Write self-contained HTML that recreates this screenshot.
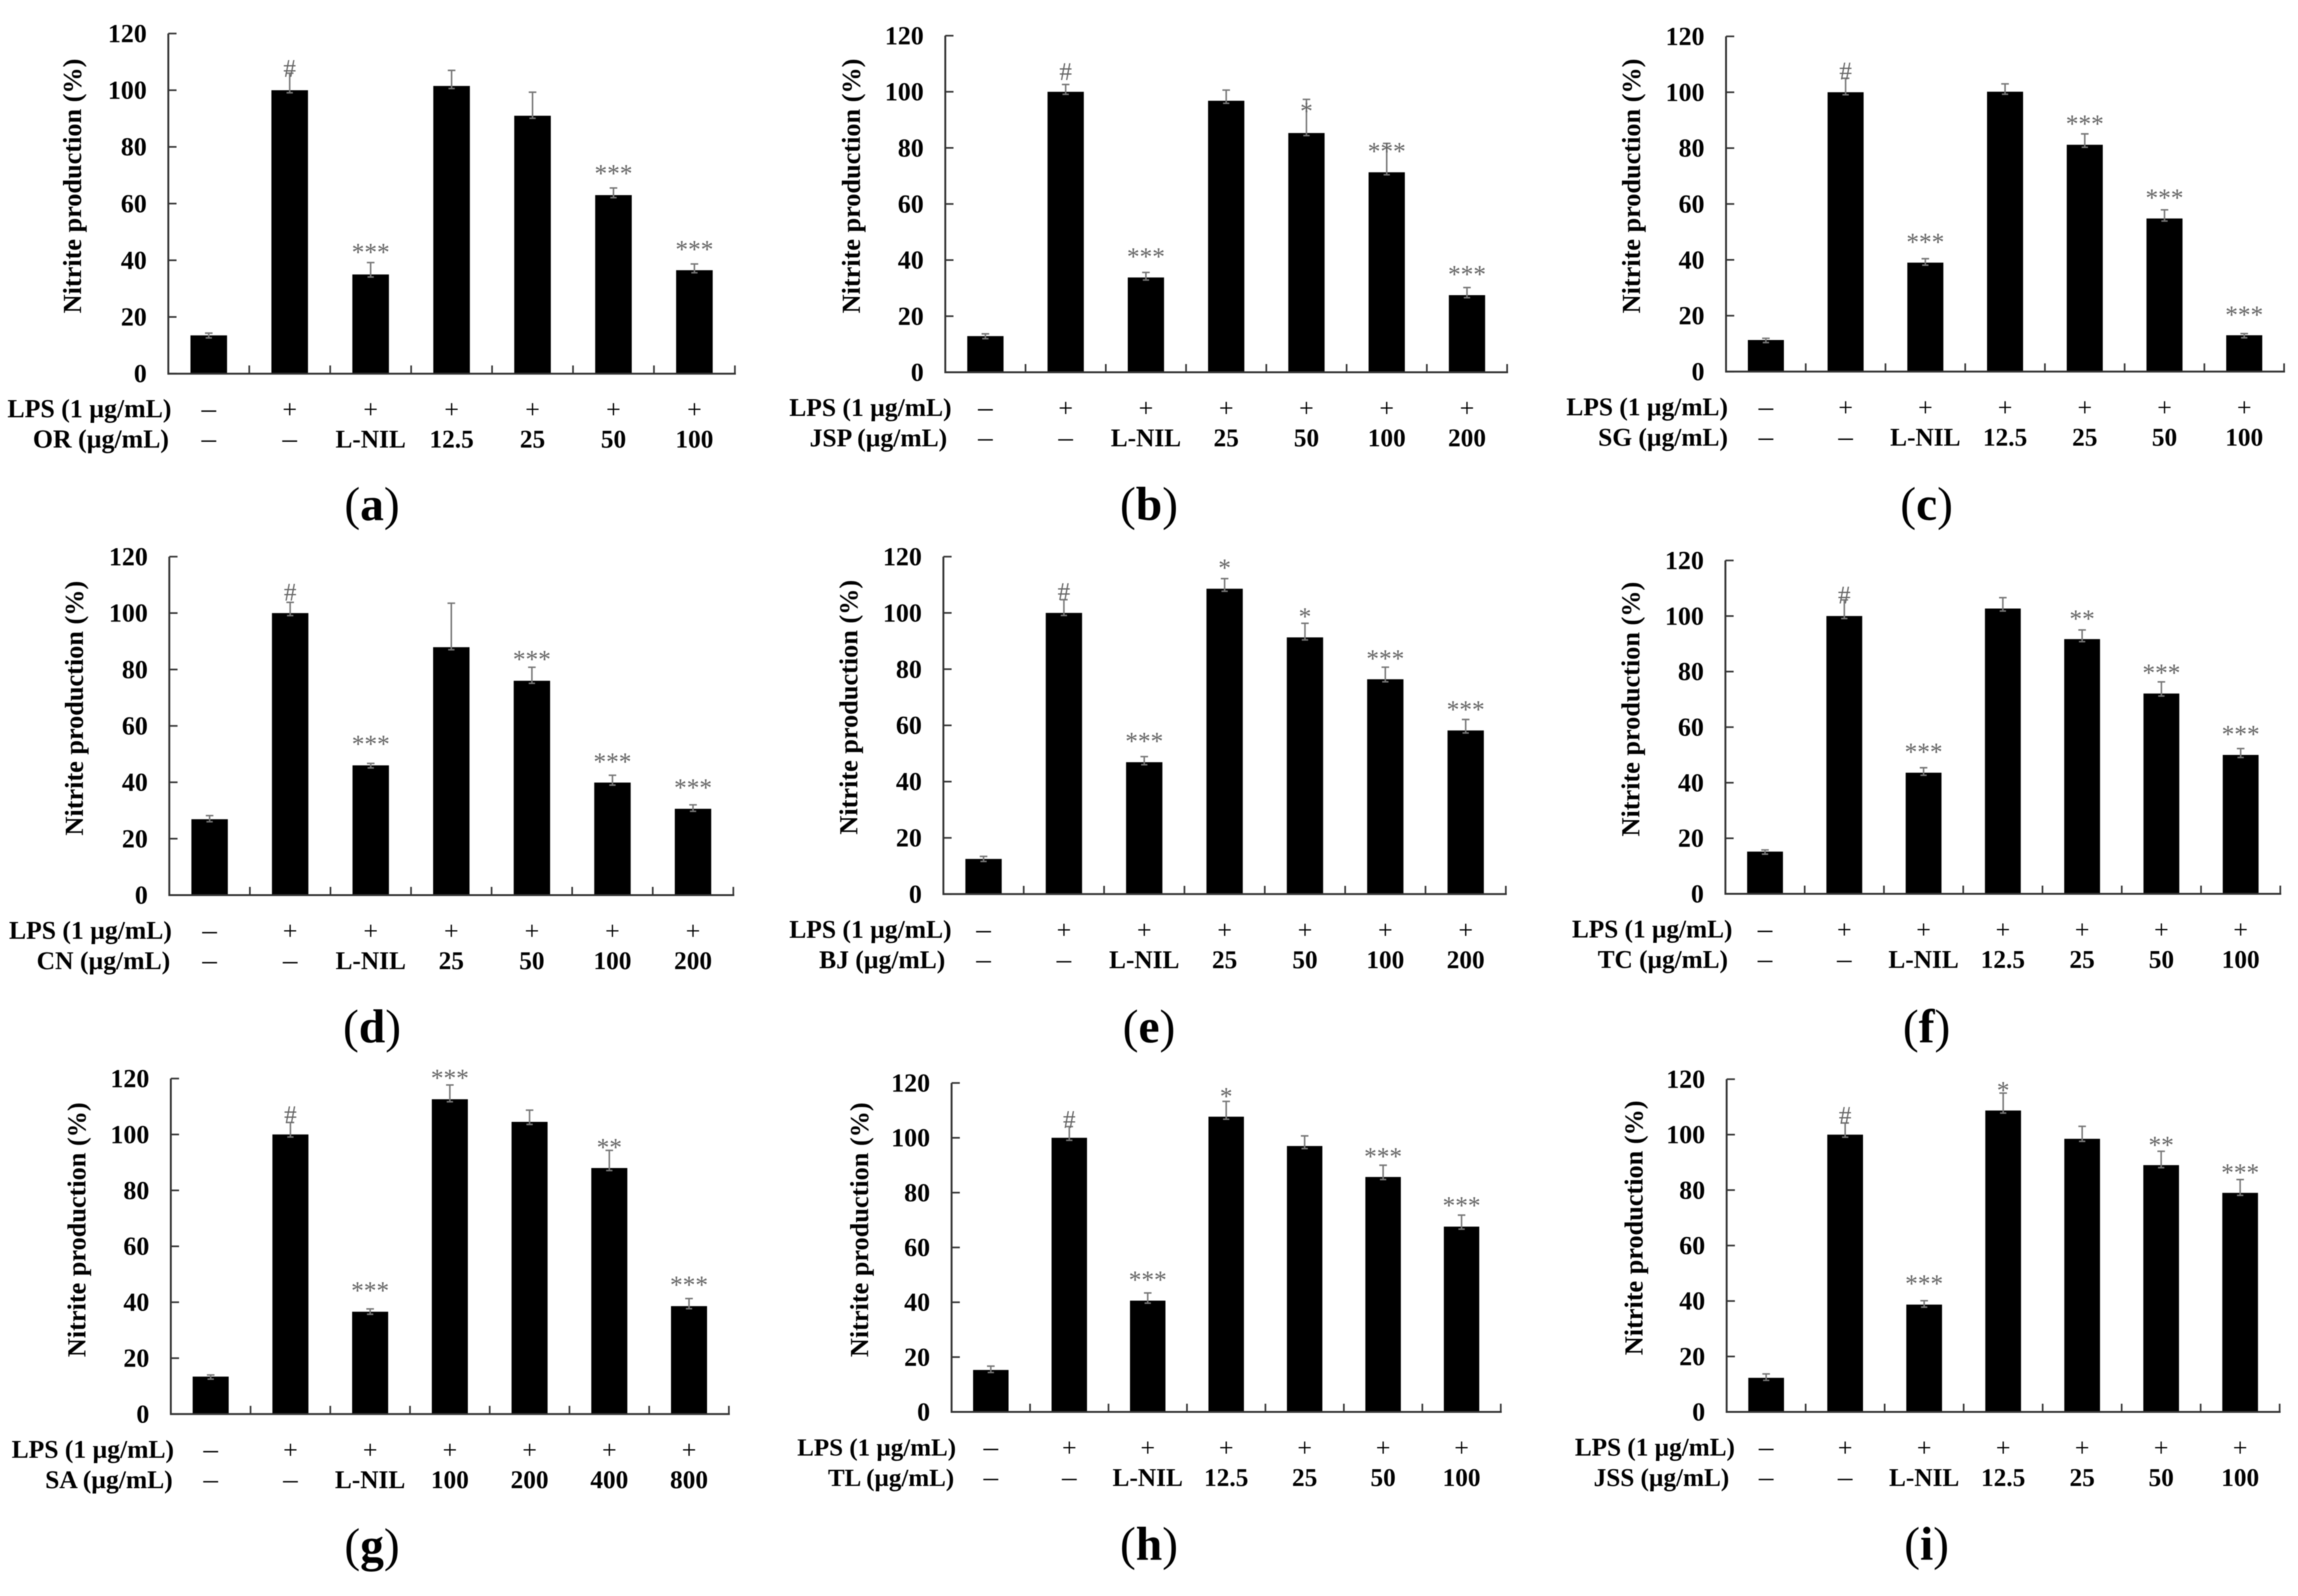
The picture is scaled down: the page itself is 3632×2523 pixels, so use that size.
<!DOCTYPE html>
<html lang="en">
<head>
<meta charset="utf-8">
<title>Nitrite production by treatment</title>
<style>
  html, body { margin: 0; padding: 0; background: #fff; }
  body { width: 3632px; height: 2523px; overflow: hidden; }
  svg { display: block; filter: blur(0.8px); }
  text { font-family: "Liberation Serif", serif; fill: #000; }
  .bold { font-weight: bold; }
  .sig { fill: #666; }
</style>
</head>
<body>
<svg id="figure" xmlns="http://www.w3.org/2000/svg" width="3632" height="2523" viewBox="0 0 3632 2523"></svg>
<script>
const yTicks = [0, 20, 40, 60, 80, 100, 120];
const lpsSigns = ['–', '+', '+', '+', '+', '+', '+'];

const valuesA = [13.5, 100, 35, 101.5, 91, 63, 36.5];
const errorsA = [0.8, 6, 4.2, 5.5, 8.3, 2.5, 2.2];
const sigA = ['', '#', '***', '', '', '***', '***'];
const sigGapA = [0, 1.8, 4.9, 0, 0, 6.4, 6.4];
const dosesA = ['–', '–', 'L-NIL', '12.5', '25', '50', '100'];

const valuesB = [12.9, 100, 33.8, 96.8, 85.3, 71.3, 27.5];
const errorsB = [0.8, 2.6, 1.8, 3.8, 12, 10.3, 2.7];
const sigB = ['', '#', '***', '', '*', '***', '***'];
const sigGapB = [0, 4.7, 6.9, 0, -3, -1.6, 5.9];
const dosesB = ['–', '–', 'L-NIL', '25', '50', '100', '200'];

const valuesC = [11.3, 100, 39, 100.2, 81.2, 54.8, 13];
const errorsC = [0.6, 5, 1.4, 2.8, 3.9, 3.1, 0.6];
const sigC = ['', '#', '***', '', '***', '***', '***'];
const sigGapC = [0, 2.7, 7.2, 0, 4.9, 5.6, 8];
const dosesC = ['–', '–', 'L-NIL', '12.5', '25', '50', '100'];

const valuesD = [26.9, 100, 46, 87.9, 76, 39.9, 30.6];
const errorsD = [1.3, 3.8, 0.7, 15.6, 4.8, 2.6, 1.4];
const sigD = ['', '#', '***', '', '***', '***', '***'];
const sigGapD = [0, 3.7, 8.1, 0, 4, 6, 7.3];
const dosesD = ['–', '–', 'L-NIL', '25', '50', '100', '200'];

const valuesE = [12.5, 100, 46.9, 108.6, 91.3, 76.4, 58.2];
const errorsE = [0.9, 4.7, 2, 3.6, 5, 4.3, 3.9];
const sigE = ['', '#', '***', '*', '*', '***', '***'];
const sigGapE = [0, 3, 6.7, 5, 3.6, 4.3, 4.8];
const dosesE = ['–', '–', 'L-NIL', '25', '50', '100', '200'];

const valuesF = [15.2, 100, 43.6, 102.7, 91.7, 72.1, 50];
const errorsF = [0.6, 5.8, 1.8, 3.9, 3.3, 4.2, 2.3];
const sigF = ['', '#', '***', '', '**', '***', '***'];
const sigGapF = [0, 1.8, 6.9, 0, 5.3, 4.5, 6.4];
const dosesF = ['–', '–', 'L-NIL', '12.5', '25', '50', '100'];

const valuesG = [13.4, 100, 36.6, 112.6, 104.5, 88, 38.6];
const errorsG = [0.6, 4.3, 1, 5.1, 4.2, 6.3, 2.7];
const sigG = ['', '#', '***', '***', '', '**', '***'];
const sigGapG = [0, 2.8, 7.8, 3.7, 0, 2.4, 6.2];
const dosesG = ['–', '–', 'L-NIL', '100', '200', '400', '800'];

const valuesH = [15.3, 100, 40.6, 107.7, 97, 85.7, 67.6];
const errorsH = [1.4, 4.1, 2.8, 5.6, 3.7, 4.3, 4.2];
const sigH = ['', '#', '***', '*', '', '***', '***'];
const sigGapH = [0, 2.7, 6, 3.1, 0, 4.5, 4.8];
const dosesH = ['–', '–', 'L-NIL', '12.5', '25', '50', '100'];

const valuesI = [12.3, 100, 38.7, 108.7, 98.5, 89, 79];
const errorsI = [1.4, 4.2, 1.4, 6.3, 4.5, 5, 4.8];
const sigI = ['', '#', '***', '*', '', '**', '***'];
const sigGapI = [0, 2.8, 7.4, 2.2, 0, 3.5, 3.8];
const dosesI = ['–', '–', 'L-NIL', '12.5', '25', '50', '100'];

const panels = [
  { id: 'a', compound: 'OR',  values: valuesA, errors: errorsA, sig: sigA, gaps: sigGapA, doses: dosesA, axisX: 266,  axisEnd: 1161.5, top: 53,   base: 590.7,  titleX: 128,  titleY: 294,  lpsRight: 271,  doseRight: 267,  labelSize: 40.8, capX: 588,  capY: 822 },
  { id: 'b', compound: 'JSP', values: valuesB, errors: errorsB, sig: sigB, gaps: sigGapB, doses: dosesB, axisX: 1494, axisEnd: 2382,   top: 56.4, base: 588.5,  titleX: 1359, titleY: 294,  lpsRight: 1504, doseRight: 1497, labelSize: 40.4, capX: 1816, capY: 822 },
  { id: 'c', compound: 'SG',  values: valuesC, errors: errorsC, sig: sigC, gaps: sigGapC, doses: dosesC, axisX: 2728, axisEnd: 3610,   top: 57.5, base: 587.4,  titleX: 2592, titleY: 294,  lpsRight: 2731, doseRight: 2731, labelSize: 40.2, capX: 3045, capY: 822 },
  { id: 'd', compound: 'CN',  values: valuesD, errors: errorsD, sig: sigD, gaps: sigGapD, doses: dosesD, axisX: 267.6, axisEnd: 1159,  top: 880,  base: 1415,   titleX: 131,  titleY: 1119.5, lpsRight: 271.6, doseRight: 269, labelSize: 40.5, capX: 588, capY: 1648 },
  { id: 'e', compound: 'BJ',  values: valuesE, errors: errorsE, sig: sigE, gaps: sigGapE, doses: dosesE, axisX: 1491, axisEnd: 2380,   top: 880,  base: 1413.4, titleX: 1355, titleY: 1118, lpsRight: 1504, doseRight: 1494, labelSize: 40.4, capX: 1816, capY: 1648 },
  { id: 'f', compound: 'TC',  values: valuesF, errors: errorsF, sig: sigF, gaps: sigGapF, doses: dosesF, axisX: 2727, axisEnd: 3604,   top: 886,  base: 1413,   titleX: 2591, titleY: 1121, lpsRight: 2738, doseRight: 2731, labelSize: 39.9, capX: 3045, capY: 1648 },
  { id: 'g', compound: 'SA',  values: valuesG, errors: errorsG, sig: sigG, gaps: sigGapG, doses: dosesG, axisX: 270,  axisEnd: 1152,   top: 1705, base: 2235.4, titleX: 135,  titleY: 1944, lpsRight: 275,  doseRight: 273,  labelSize: 40.4, capX: 588,  capY: 2468 },
  { id: 'h', compound: 'TL',  values: valuesH, errors: errorsH, sig: sigH, gaps: sigGapH, doses: dosesH, axisX: 1504, axisEnd: 2372,   top: 1712, base: 2232,   titleX: 1372, titleY: 1944, lpsRight: 1511, doseRight: 1508, labelSize: 39.5, capX: 1816, capY: 2466 },
  { id: 'i', compound: 'JSS', values: valuesI, errors: errorsI, sig: sigI, gaps: sigGapI, doses: dosesI, axisX: 2729, axisEnd: 3603,   top: 1706, base: 2232,   titleX: 2596, titleY: 1941, lpsRight: 2742, doseRight: 2733, labelSize: 39.8, capX: 3045, capY: 2466 }
];

const SVG_NS = 'http://www.w3.org/2000/svg';
const Y_MAX = 120;
const AXIS_COLOR = '#333';
const ERR_COLOR = '#808080';

function add(parent, tag, attrs, content) {
  const el = document.createElementNS(SVG_NS, tag);
  for (const key in attrs) el.setAttribute(key, attrs[key]);
  if (content !== undefined) el.textContent = content;
  parent.appendChild(el);
  return el;
}

function drawPanel(svg, p) {
  const n = p.values.length;
  const band = (p.axisEnd - p.axisX) / n;
  const barW = band * 0.452;
  const xScale = i => p.axisX + (i + 0.5) * band;
  const yScale = v => p.base - (v / Y_MAX) * (p.base - p.top);

  const g = add(svg, 'g', {});
  
  

  p.values.forEach((v, i) => {
    const bar = add(g, 'rect', { x: xScale(i) - barW / 2, y: yScale(v), width: barW, height: p.base - yScale(v), fill: '#000' });
    
    
  });

  p.errors.forEach((e, i) => {
    const cx = xScale(i);
    const yTop = yScale(p.values[i] + e);
    const yLow = yScale(p.values[i]) + 4;
    const path = `M${cx} ${yTop}V${yLow}M${cx - 6} ${yTop}H${cx + 6}M${cx - 5} ${yLow}H${cx + 5}`;
    const err = add(g, 'path', { d: path, stroke: '#777', 'stroke-width': 2.4, fill: 'none' });
    
    
  });

  const yAxis = add(g, 'line', { x1: p.axisX, x2: p.axisX, y1: p.top, y2: p.base + 1.5, stroke: AXIS_COLOR, 'stroke-width': 3 });
  
  

  const xAxis = add(g, 'line', { x1: p.axisX, x2: p.axisEnd + 1.5, y1: p.base, y2: p.base, stroke: AXIS_COLOR, 'stroke-width': 3 });
  
  

  for (let i = 1; i <= n; i++) {
    const tx = p.axisX + i * band;
    const tick = add(g, 'line', { x1: tx, x2: tx, y1: p.base - 13, y2: p.base, stroke: AXIS_COLOR, 'stroke-width': 2.6 });
    
    
  }

  yTicks.forEach(t => {
    const ty = yScale(t);
    const tick = add(g, 'line', { x1: p.axisX, x2: p.axisX + 13, y1: ty, y2: ty, stroke: AXIS_COLOR, 'stroke-width': 2.6 });
    
    
    const label = add(g, 'text', { x: p.axisX - 34, y: ty + 13.5, 'text-anchor': 'end', 'font-size': 41, class: 'bold' }, String(t));
    
    
  });

  const title = add(g, 'text', { transform: `translate(${p.titleX} ${p.titleY}) rotate(-90)`, 'text-anchor': 'middle', 'font-size': 41.5, class: 'bold' }, 'Nitrite production (%)');
  
  

  p.sig.forEach((s, i) => {
    if (!s) return;
    const cy = yScale(p.values[i] + p.errors[i] + p.gaps[i]);
    const shift = s === '#' ? 13.6 : 18.8;
    const mark = add(g, 'text', { x: xScale(i), y: cy + shift, 'text-anchor': 'middle', 'font-size': 40, class: 'sig' }, s);
    
    
  });

  const lpsLabel = add(g, 'text', { x: p.lpsRight, y: p.base + 69, 'text-anchor': 'end', 'font-size': p.labelSize, class: 'bold' }, 'LPS (1 µg/mL)');
  
  

  const doseLabel = add(g, 'text', { x: p.doseRight, y: p.base + 117, 'text-anchor': 'end', 'font-size': p.labelSize, class: 'bold' }, `${p.compound} (µg/mL)`);
  
  

  lpsSigns.forEach((s, i) => {
    const sign = add(g, 'text', { x: xScale(i), y: p.base + 70, 'text-anchor': 'middle', 'font-size': s === '+' ? 41 : 46 }, s);
    
    
  });

  p.doses.forEach((d, i) => {
    const isDash = d === '–';
    const dose = add(g, 'text', isDash
      ? { x: xScale(i), y: p.base + 117.5, 'text-anchor': 'middle', 'font-size': 46 }
      : { x: xScale(i), y: p.base + 117, 'text-anchor': 'middle', 'font-size': 40, class: 'bold' }, d);
    
    
  });

  const caption = add(g, 'text', { x: p.capX, y: p.capY, 'text-anchor': 'middle', 'font-size': 75 });
  
  
  add(caption, 'tspan', {}, '(');
  add(caption, 'tspan', { 'font-weight': 'bold' }, p.id);
  add(caption, 'tspan', {}, ')');
}

const figure = document.getElementById('figure');
panels.forEach(p => drawPanel(figure, p));
</script>
</body>
</html>
